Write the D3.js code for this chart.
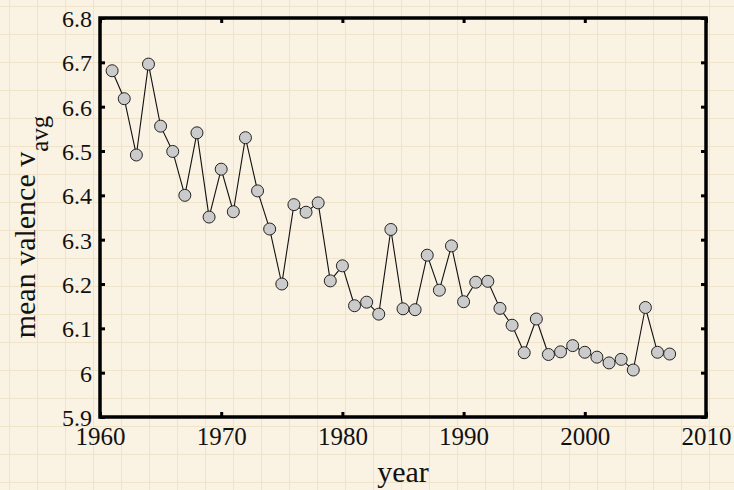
<!DOCTYPE html>
<html>
<head>
<meta charset="utf-8">
<script src="https://cdn.jsdelivr.net/npm/d3@7"></script>
<style>
  html, body { margin: 0; padding: 0; background: #faf2e2; }
  svg { display: block; }
  text { font-family: "Liberation Serif", "DejaVu Serif", serif; fill: #111; }
</style>
</head>
<body>
<svg id="chart" width="734" height="490"></svg>
<script>
// Yearly mean valence of the corpus
const years = d3.range(1961, 2008);
const valence = [
  6.681, 6.618, 6.491, 6.696, 6.556, 6.499, 6.400, 6.541, 6.351, 6.459,
  6.363, 6.530, 6.410, 6.324, 6.200, 6.379, 6.362, 6.383, 6.207, 6.241,
  6.151, 6.159, 6.132, 6.323, 6.144, 6.142, 6.265, 6.186, 6.286, 6.160,
  6.204, 6.206, 6.145, 6.107, 6.045, 6.121, 6.041, 6.047, 6.061, 6.046,
  6.035, 6.022, 6.030, 6.006, 6.147, 6.046, 6.042
];
const xTicks = [1960, 1970, 1980, 1990, 2000, 2010];
const yTicks = [5.9, 6.0, 6.1, 6.2, 6.3, 6.4, 6.5, 6.6, 6.7, 6.8];

const SERIF = '"Liberation Serif", "DejaVu Serif", serif';
const svg = d3.select("#chart");
const W = 734, H = 490;
const m = { left: 100, right: 28, top: 18, bottom: 73 };

// paper background with a faint grid
const defs = svg.append("defs");
const pat = defs.append("pattern")
  .attr("id", "paper").attr("width", 28).attr("height", 28)
  .attr("patternUnits", "userSpaceOnUse").attr("x", 9).attr("y", 6);
pat.append("rect").attr("width", 28).attr("height", 28).attr("fill", "#faf2e2");
pat.append("path").attr("d", "M0,0.5H28M0.5,0V28")
  .attr("stroke", "#efe3c9").attr("stroke-width", 1).attr("fill", "none");
svg.append("rect").attr("width", W).attr("height", H).attr("fill", "url(#paper)");

const x = d3.scaleLinear().domain([1960, 2010]).range([m.left, W - m.right]);
const y = d3.scaleLinear().domain([5.9, 6.8]).range([H - m.bottom, m.top]);
const fmtY = d3.format(".1~f");
const fmtX = d3.format("d");

const tickLen = 5;
function styleAxis(g) {
  g.attr("font-family", SERIF);
  g.select(".domain").remove();
  g.selectAll(".tick line").attr("stroke", "#000").attr("stroke-width", 3);
  g.selectAll(".tick text").attr("fill", "#111");
}

// bottom axis with labels
svg.append("g").attr("transform", `translate(0,${H - m.bottom})`)
  .call(d3.axisBottom(x).tickValues(xTicks).tickSizeInner(-tickLen).tickSizeOuter(0).tickFormat(fmtX))
  .call(styleAxis)
  .call(g => g.selectAll(".tick text").attr("font-size", 25).attr("y", 4).attr("dy", "0.95em"));

// top axis, ticks only
svg.append("g").attr("transform", `translate(0,${m.top})`)
  .call(d3.axisTop(x).tickValues(xTicks).tickSizeInner(-tickLen).tickSizeOuter(0).tickFormat(""))
  .call(styleAxis);

// left axis with labels
svg.append("g").attr("transform", `translate(${m.left},0)`)
  .call(d3.axisLeft(y).tickValues(yTicks).tickSizeInner(-tickLen).tickSizeOuter(0).tickFormat(fmtY))
  .call(styleAxis)
  .call(g => g.selectAll(".tick text").attr("font-size", 24).attr("x", -8).attr("dy", "0.35em"));

// right axis, ticks only
svg.append("g").attr("transform", `translate(${W - m.right},0)`)
  .call(d3.axisRight(y).tickValues(yTicks).tickSizeInner(-tickLen).tickSizeOuter(0).tickFormat(""))
  .call(styleAxis);

// frame
svg.append("rect")
  .attr("x", m.left).attr("y", m.top)
  .attr("width", W - m.left - m.right).attr("height", H - m.top - m.bottom)
  .attr("fill", "none").attr("stroke", "#000").attr("stroke-width", 3.5);

// series line and markers
const line = d3.line().x((d, i) => x(years[i])).y(d => y(d));
svg.append("path").datum(valence)
  .attr("d", line).attr("fill", "none")
  .attr("stroke", "#111").attr("stroke-width", 1.1);

svg.append("g").selectAll("circle").data(valence).join("circle")
  .attr("cx", (d, i) => x(years[i])).attr("cy", d => y(d))
  .attr("r", 6)
  .attr("fill", "#cbcbcb").attr("stroke", "#222").attr("stroke-width", 1);

// axis titles
svg.append("text")
  .attr("x", (m.left + W - m.right) / 2).attr("y", 482)
  .attr("text-anchor", "middle").attr("font-size", 30)
  .attr("font-family", SERIF).text("year");

const yt = svg.append("text")
  .attr("transform", `translate(35,227) rotate(-90)`)
  .attr("text-anchor", "middle").attr("font-size", 30)
  .attr("font-family", SERIF);
yt.append("tspan").text("mean valence v");
yt.append("tspan").attr("dy", 13).attr("font-size", 25).text("avg");
</script>
</body>
</html>
